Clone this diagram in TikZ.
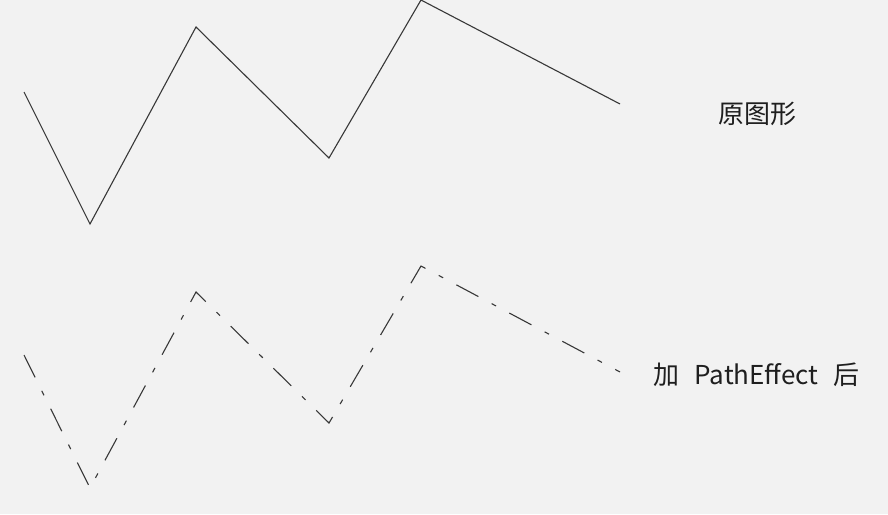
\documentclass[tikz,border=0pt]{standalone}
\usepackage{fontspec}
\setmainfont{Noto Sans CJK SC}
\begin{document}
\begin{tikzpicture}[x=1pt,y=-1pt,
  zig/.style={draw=black!78, line width=1.1pt},
  zigdash/.style={zig, dash pattern=on 25pt off 15pt on 5pt off 15pt},
  lbl/.style={font=\fontsize{26}{30}\selectfont, text=black!88, inner sep=0pt}]
\fill[fill={rgb,255:red,242;green,242;blue,242}] (0,0) rectangle (888,514);
\useasboundingbox (0,0) rectangle (888,514);
% original
\coordinate (a1) at (24,92);
\coordinate (a2) at (90,224);
\coordinate (a3) at (196,27);
\coordinate (a4) at (329,158);
\coordinate (a5) at (421,0);
\coordinate (a6) at (620,104);
\draw[zig] (a1) -- (a2) -- (a3) -- (a4) -- (a5) -- (a6);
% dashed
\coordinate (b1) at (24,355);
\coordinate (b2) at (90,488);
\coordinate (b3) at (196,292);
\coordinate (b4) at (329,423);
\coordinate (b5) at (421,266);
\coordinate (b6) at (620,372);
\draw[zigdash] (b1) -- (b2) -- (b3) -- (b4) -- (b5) -- (b6);
\node[lbl] (t1) at (757,114) {原图形};
\node[lbl] (t2) at (756.5,375) {加\hspace{9pt} PathEffect\hspace{9pt} 后};
\end{tikzpicture}
\end{document}
